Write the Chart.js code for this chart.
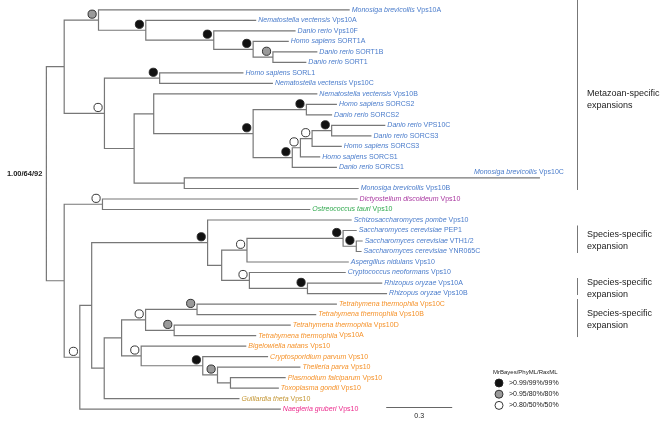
<!DOCTYPE html>
<html>
<head>
<meta charset="utf-8">
<script src="https://cdn.jsdelivr.net/npm/chart.js@4"></script>
<style>
  html, body { margin: 0; padding: 0; background: #fff; }
  #wrap { width: 668px; height: 423px; }
</style>
</head>
<body>
<div id="wrap"><canvas id="tree" width="668" height="423"></canvas></div>
<script>
// tips, top to bottom
const taxa = [
  "Monosiga brevicollis Vps10A", "Nematostella vectensis Vps10A", "Danio rerio Vps10F",
  "Homo sapiens SORT1A", "Danio rerio SORT1B", "Danio rerio SORT1", "Homo sapiens SORL1",
  "Nematostella vectensis Vps10C", "Nematostella vectensis Vps10B", "Homo sapiens SORCS2",
  "Danio rerio SORCS2", "Danio rerio VPS10C", "Danio rerio SORCS3", "Homo sapiens SORCS3",
  "Homo sapiens SORCS1", "Danio rerio SORCS1", "Monosiga brevicollis Vps10C",
  "Monosiga brevicollis Vps10B", "Dictyostelium discoideum Vps10", "Ostreococcus tauri Vps10",
  "Schizosaccharomyces pombe Vps10", "Saccharomyces cerevisiae PEP1",
  "Saccharomyces cerevisiae VTH1/2", "Saccharomyces cerevisiae YNR065C",
  "Aspergillus nidulans Vps10", "Cryptococcus neoformans Vps10", "Rhizopus oryzae Vps10A",
  "Rhizopus oryzae Vps10B", "Tetrahymena thermophila Vps10C", "Tetrahymena thermophila Vps10B",
  "Tetrahymena thermophila Vps10D", "Tetrahymena thermophila Vps10A", "Bigelowiella natans Vps10",
  "Cryptosporidium parvum Vps10", "Theileria parva Vps10", "Plasmodium falciparum Vps10",
  "Toxoplasma gondii Vps10", "Guillardia theta Vps10", "Naegleria gruberi Vps10"
];

const taxonGroup = [
  "Opi", "Opi", "Opi", "Opi", "Opi", "Opi", "Opi", "Opi", "Opi", "Opi", "Opi", "Opi", "Opi",
  "Opi", "Opi", "Opi", "Opi", "Opi", "Amoebozoa", "Plant", "Opi", "Opi", "Opi", "Opi", "Opi",
  "Opi", "Opi", "Opi", "SAR", "SAR", "SAR", "SAR", "SAR", "SAR", "SAR", "SAR", "SAR",
  "Crypto", "Excavata"
];

// terminal branch lengths (substitutions/site), same order as taxa
const tipLength = [
  1.142, 0.502, 0.372, 0.162, 0.202, 0.152, 0.381, 0.515, 0.744, 0.139, 0.117, 0.244, 0.181,
  0.135, 0.090, 0.203, 1.617, 0.793, 1.160, 0.945, 0.655, 0.062, 0.029, 0.024, 0.463, 0.438,
  0.340, 0.362, 0.636, 0.542, 0.530, 0.373, 0.478, 0.297, 0.377, 0.251, 0.220, 0.615, 0.914
];

// internal nodes: [id, children (tip index or node id), branch length, support class]
const clades = [
  ["root", ["A", "P"], 0, null],
  ["A", ["B", "C"], 0.081, null],
  ["B", [0, "D"], 0.156, 1],
  ["D", [1, "E"], 0.215, 0],
  ["E", [2, "F"], 0.309, 0],
  ["F", [3, "G"], 0.179, 0],
  ["G", [4, 5], 0.090, 1],
  ["C", ["H", "I"], 0.183, 2],
  ["H", [6, 7], 0.251, 0],
  ["I", ["J", "K"], 0.135, null],
  ["J", [8, "L"], 0.089, null],
  ["K", [16, 17], 0.228, null],
  ["L", ["M", "N"], 0.452, 0],
  ["M", [9, 10], 0.242, 0],
  ["N", ["N1", 15], 0.178, 0],
  ["N1", ["N2", 14], 0.037, 2],
  ["N2", ["N3", 13], 0.053, 2],
  ["N3", [11, 12], 0.089, 0],
  ["P", ["Q", "R"], 0.081, null],
  ["Q", [18, 19], 0.174, 2],
  ["R", ["S", 38], 0.071, 2],
  ["S", ["T", "U"], 0.054, null],
  ["T", [20, "V"], 0.527, 0],
  ["V", ["W", "X"], 0.064, null],
  ["W", ["Y", 24], 0.115, 2],
  ["Y", [21, "Y2"], 0.437, 0],
  ["Y2", [22, 23], 0.060, 0],
  ["X", [25, "Z"], 0.126, 2],
  ["Z", [26, 27], 0.264, 0],
  ["U", ["AA", 37], 0.057, null],
  ["AA", ["AB", "AC"], 0.079, null],
  ["AB", ["AD", "AE"], 0.109, 2],
  ["AD", [28, 29], 0.234, 1],
  ["AE", [30, 31], 0.130, 1],
  ["AC", [32, "AF"], 0.089, 2],
  ["AF", [33, "AG"], 0.280, 0],
  ["AG", [34, "AH"], 0.067, 1],
  ["AH", [35, 36], 0.059, null]
];

const supportLabels = [">0.99/99%/99%", ">0.95/80%/80%", ">0.80/50%/50%"];
const legendTitle = "MrBayes/PhyML/RaxML";
const rootSupport = "1.00/64/92";
const scaleBarValue = 0.3;

const brackets = [
  { from: 0, to: 17, text: ["Metazoan-specific", "expansions"] },
  { from: 21, to: 23, text: ["Species-specific", "expansion"] },
  { from: 26, to: 27, text: ["Species-specific", "expansion"] },
  { from: 28, to: 31, text: ["Species-specific", "expansion"] }
];

const groupColor = {
  Opi: "#4a7ccb", Amoebozoa: "#a8359f", Plant: "#2ea84c",
  SAR: "#f5922a", Crypto: "#c49634", Excavata: "#ec2a8c"
};
const supportFill = ["#111111", "#9a9a9a", "#ffffff"];

// lay the tree out: x = distance from root, y = tip row (node = middle of its children)
const cladeById = {};
clades.forEach(c => { cladeById[c[0]] = c; });
const nodePos = {};
const treeLines = [];
const supportPoints = [];
const supportColors = [];

function layout(id, parentX) {
  if (typeof id === "number") {
    return { x: parentX + tipLength[id], y: id };
  }
  const c = cladeById[id];
  const x = parentX + c[2];
  const kids = c[1].map(k => layout(k, x));
  const y = (kids[0].y + kids[kids.length - 1].y) / 2;
  kids.forEach(k => {
    treeLines.push({ x: x, y: y }, { x: x, y: k.y }, { x: k.x, y: k.y }, { x: NaN, y: NaN });
  });
  nodePos[id] = { x: x, y: y };
  if (c[3] !== null) {
    supportPoints.push({ x: x - 0.029, y: y - 0.56 });
    supportColors.push(supportFill[c[3]]);
  }
  return { x: x, y: y };
}
layout("root", 0);

const tipX = taxa.map((t, i) => {
  // walk back to find the parent depth
  let depth = 0;
  clades.forEach(c => {
    if (c[1].indexOf(i) >= 0) depth = nodePos[c[0]].x;
  });
  return depth + tipLength[i];
});

const FONT = '"Liberation Sans", Arial, sans-serif';

const treeText = {
  id: "treeText",
  afterDatasetsDraw(chart) {
    const ctx = chart.ctx;
    const xs = chart.scales.x, ys = chart.scales.y;
    ctx.save();
    ctx.textBaseline = "middle";

    // tip labels: species italic, gene upright
    taxa.forEach((name, i) => {
      let px = xs.getPixelForValue(tipX[i]) + 2;
      let py = ys.getPixelForValue(i);
      if (i === 16) { px -= 68; py -= 5.5; }
      const words = name.split(" ");
      const sp = words.slice(0, 2).join(" ") + " ";
      const gene = words.slice(2).join(" ");
      ctx.fillStyle = groupColor[taxonGroup[i]];
      ctx.font = "italic 7px " + FONT;
      ctx.fillText(sp, px, py);
      const w = ctx.measureText(sp).width;
      ctx.font = "7px " + FONT;
      ctx.fillText(gene, px + w, py);
    });

    // root support
    ctx.fillStyle = "#222";
    ctx.font = "bold 7.5px " + FONT;
    ctx.textAlign = "right";
    ctx.fillText(rootSupport, xs.getPixelForValue(0) - 4, ys.getPixelForValue(nodePos.root.y));
    ctx.textAlign = "left";

    // brackets on the right
    ctx.strokeStyle = "#777";
    ctx.lineWidth = 1;
    brackets.forEach(b => {
      const y0 = b.from === 0 ? 0 : ys.getPixelForValue(b.from) - 5;
      const y1 = ys.getPixelForValue(b.to) + 1.5;
      ctx.beginPath();
      ctx.moveTo(577.5, y0);
      ctx.lineTo(577.5, y1);
      ctx.stroke();
      const mid = (ys.getPixelForValue(b.from) + ys.getPixelForValue(b.to)) / 2;
      ctx.fillStyle = "#222";
      ctx.font = "9px " + FONT;
      ctx.fillText(b.text[0], 587, mid - 6);
      ctx.fillText(b.text[1], 587, mid + 6);
    });

    // scale bar
    const sx0 = xs.getPixelForValue(1.545);
    const sx1 = xs.getPixelForValue(1.545 + scaleBarValue);
    ctx.strokeStyle = "#666";
    ctx.beginPath();
    ctx.moveTo(sx0, 407.5);
    ctx.lineTo(sx1, 407.5);
    ctx.stroke();
    ctx.fillStyle = "#222";
    ctx.font = "7px " + FONT;
    ctx.textAlign = "center";
    ctx.fillText(String(scaleBarValue), (sx0 + sx1) / 2, 416.5);
    ctx.textAlign = "left";

    // support legend
    ctx.font = "6px " + FONT;
    ctx.fillText(legendTitle, 493, 372);
    supportLabels.forEach((lab, k) => {
      const cy = 383 + k * 11.2;
      ctx.beginPath();
      ctx.arc(499, cy, 4, 0, Math.PI * 2);
      ctx.fillStyle = supportFill[k];
      ctx.fill();
      ctx.strokeStyle = "#222";
      ctx.lineWidth = 0.9;
      ctx.stroke();
      ctx.fillStyle = "#222";
      ctx.font = "7px " + FONT;
      ctx.fillText(lab, 509, cy);
    });
    ctx.restore();
  }
};

new Chart(document.getElementById("tree"), {
  type: "scatter",
  data: {
    datasets: [
      {
        data: supportPoints,
        pointRadius: 4.1,
        pointBorderWidth: 0.9,
        pointBorderColor: "#222",
        pointBackgroundColor: supportColors,
        order: 0
      },
      {
        data: treeLines,
        showLine: true,
        spanGaps: false,
        pointRadius: 0,
        borderColor: "#777777",
        borderWidth: 1.2,
        order: 1
      }
    ]
  },
  options: {
    responsive: false,
    devicePixelRatio: 1,
    animation: false,
    events: [],
    layout: { padding: 0 },
    plugins: { legend: { display: false }, tooltip: { enabled: false } },
    scales: {
      x: { type: "linear", display: false, min: -0.1881, max: 2.8034 },
      y: { type: "linear", display: false, reverse: true, min: -0.4647, max: 38.848 }
    }
  },
  plugins: [treeText]
});
</script>
</body>
</html>
